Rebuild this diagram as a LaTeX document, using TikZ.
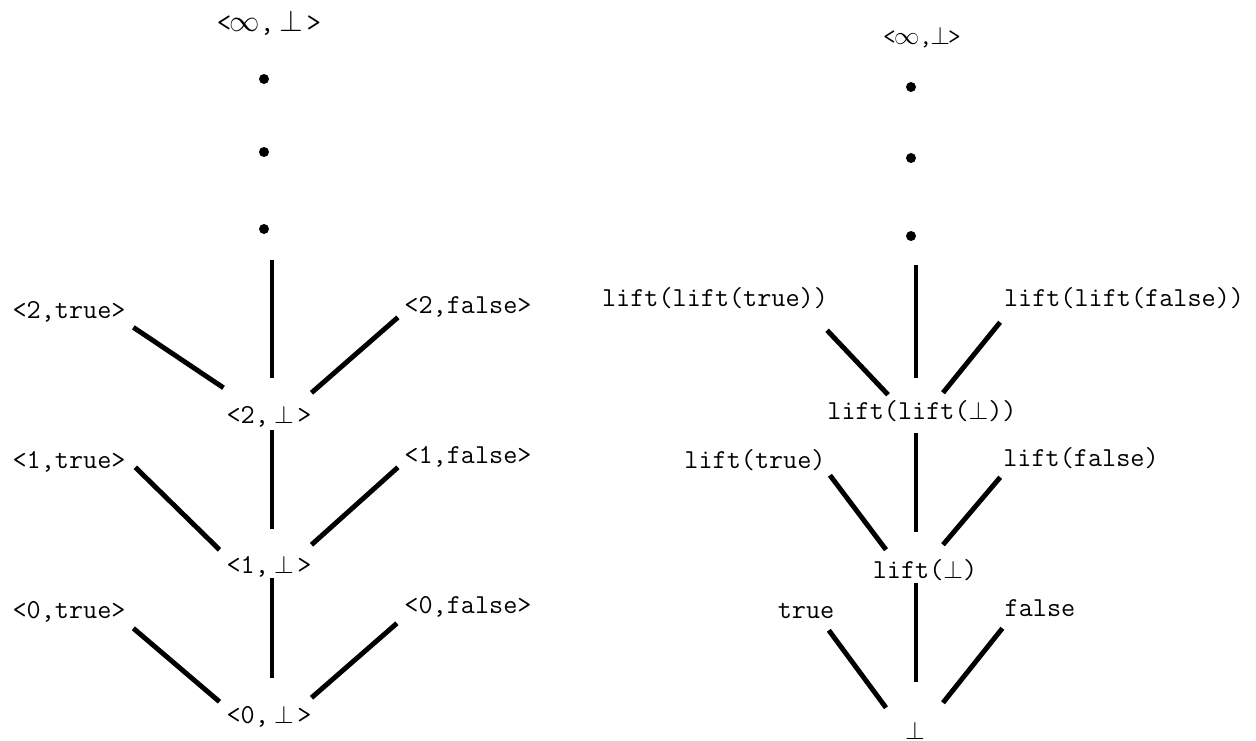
\documentclass[tikz,border=0pt]{standalone}
\usepackage{fontspec}
\usetikzlibrary{positioning}

\begin{document}
\begin{tikzpicture}[x=0.02cm,y=-0.02cm,node distance=3cm,on grid,
    lbl/.style={font=\fontsize{15.6}{18}\selectfont\ttfamily,inner sep=0pt,
                text height=10pt,text depth=3pt},
    pt/.style={circle,fill,inner sep=0pt,minimum size=0.2cm},
    lnk/.style={line width=2.8pt},
    spine/.style={line width=2.1pt}]
      \useasboundingbox (0,0) rectangle (1256,740);

      % pairs <n,b>
      \node[lbl] (b0) at (269,717)                  {<0,\kern3pt$\bot$\kern2pt>};
      \node[lbl] (b1) [above=of b0]                 {<1,\kern3pt$\bot$\kern2pt>};
      \node[lbl] (b2) [above=of b1]                 {<2,\kern3pt$\bot$\kern2pt>};
      \node[lbl] (t0) [above left=2.1cm and 4cm of b0]  {<0,true>};
      \node[lbl] (t1) [above left=2.1cm and 4cm of b1]  {<1,true>};
      \node[lbl] (t2) [above left=2.1cm and 4cm of b2]  {<2,true>};
      \node[lbl] (f0) [above right=2.2cm and 3.98cm of b0] {<0,false>};
      \node[lbl] (f1) [above right=2.2cm and 3.98cm of b1] {<1,false>};
      \node[lbl] (f2) [above right=2.2cm and 3.98cm of b2] {<2,false>};
      \node[pt]  (d3) at (264,229) {};
      \node[pt]  (d2) at (264,152) {};
      \node[pt]  (d1) at (264,79)  {};
      \node[lbl,font=\fontsize{16}{18}\selectfont\ttfamily] (inf) at (269,25)
                 {<\kern-1pt$\infty$,\kern3pt$\bot$\kern2pt>};

      % lifted values
      \node[lbl] (r0)  at (915,733)  {$\bot$};
      \node[lbl] (r1)  at (925,572)  {lift($\bot$)};
      \node[lbl] (r2)  at (922,413)  {lift(lift($\bot$))};
      \node[lbl] (rt0) at (806,612)  {true};
      \node[lbl] (rf0) at (1040,610) {false};
      \node[lbl] (rt1) at (755,462)  {lift(true)};
      \node[lbl] (rf1) at (1081,460) {lift(false)};
      \node[lbl] (rt2) at (715,300)  {lift(lift(true))};
      \node[lbl] (rf2) at (1124,300) {lift(lift(false))};
      \node[pt]  (e3) at (911,236) {};
      \node[pt]  (e2) at (911,158) {};
      \node[pt]  (e1) at (911,87)  {};
      \node[lbl,font=\fontsize{14}{16}\selectfont\ttfamily] (rinf) at (922,38)
                 {<\kern-1pt$\infty$,\kern-1pt$\bot$\kern-1pt>};

      \path[lnk]
      ([shift={(7.5,3.5)}]t2.south east)  edge ([shift={(-2.7,-17.5)}]b2.north west)
      ([shift={(-6.2,-1.5)}]f2.south west) edge ([shift={(-0.3,-12.5)}]b2.north east)
      ([shift={(9.5,-6.5)}]t1.south east)  edge ([shift={(-6.7,-5.5)}]b1.north west)
      ([shift={(-6.2,-1.5)}]f1.south west) edge ([shift={(-0.3,-10.5)}]b1.north east)
      ([shift={(7.5,4.5)}]t0.south east)   edge ([shift={(-6.7,-3.5)}]b0.north west)
      ([shift={(-7.2,4.5)}]f0.south west)  edge ([shift={(-0.3,-7.5)}]b0.north east)
      ([shift={(-1.2,18.5)}]rt2.south east) edge ([shift={(-34,-6.5)}]r2.north)
      ([shift={(-3.6,10.5)}]rf2.south west) edge ([shift={(21,-8.5)}]r2.north)
      ([shift={(4,1.5)}]rt1.south east)     edge ([shift={(-39,-10.5)}]r1.north)
      ([shift={(-2.8,5.5)}]rf1.south west)  edge ([shift={(18,-15.5)}]r1.north)
      ([shift={(-5.8,6.5)}]rt0.south east)  edge ([shift={(-29,-13.5)}]r0.north)
      ([shift={(-2,6.5)}]rf0.south west)    edge ([shift={(28,-18.5)}]r0.north);

      \path[spine]
      ([shift={(8,31)}]d3.center)   edge ([shift={(3,-27.5)}]b2.north)
      ([shift={(3,1.5)}]b2.south)   edge ([shift={(3,-26.5)}]b1.north)
      ([shift={(3,-0.5)}]b1.south)  edge ([shift={(3,-27.5)}]b0.north)
      ([shift={(5,29)}]e3.center)   edge ([shift={(-6,-23.5)}]r2.north)
      ([shift={(-6,8.5)}]r2.south)  edge ([shift={(-9,-28.5)}]r1.north)
      ([shift={(-9,-0.5)}]r1.south) edge ([shift={(1,-39.5)}]r0.north);
\end{tikzpicture}
\end{document}
